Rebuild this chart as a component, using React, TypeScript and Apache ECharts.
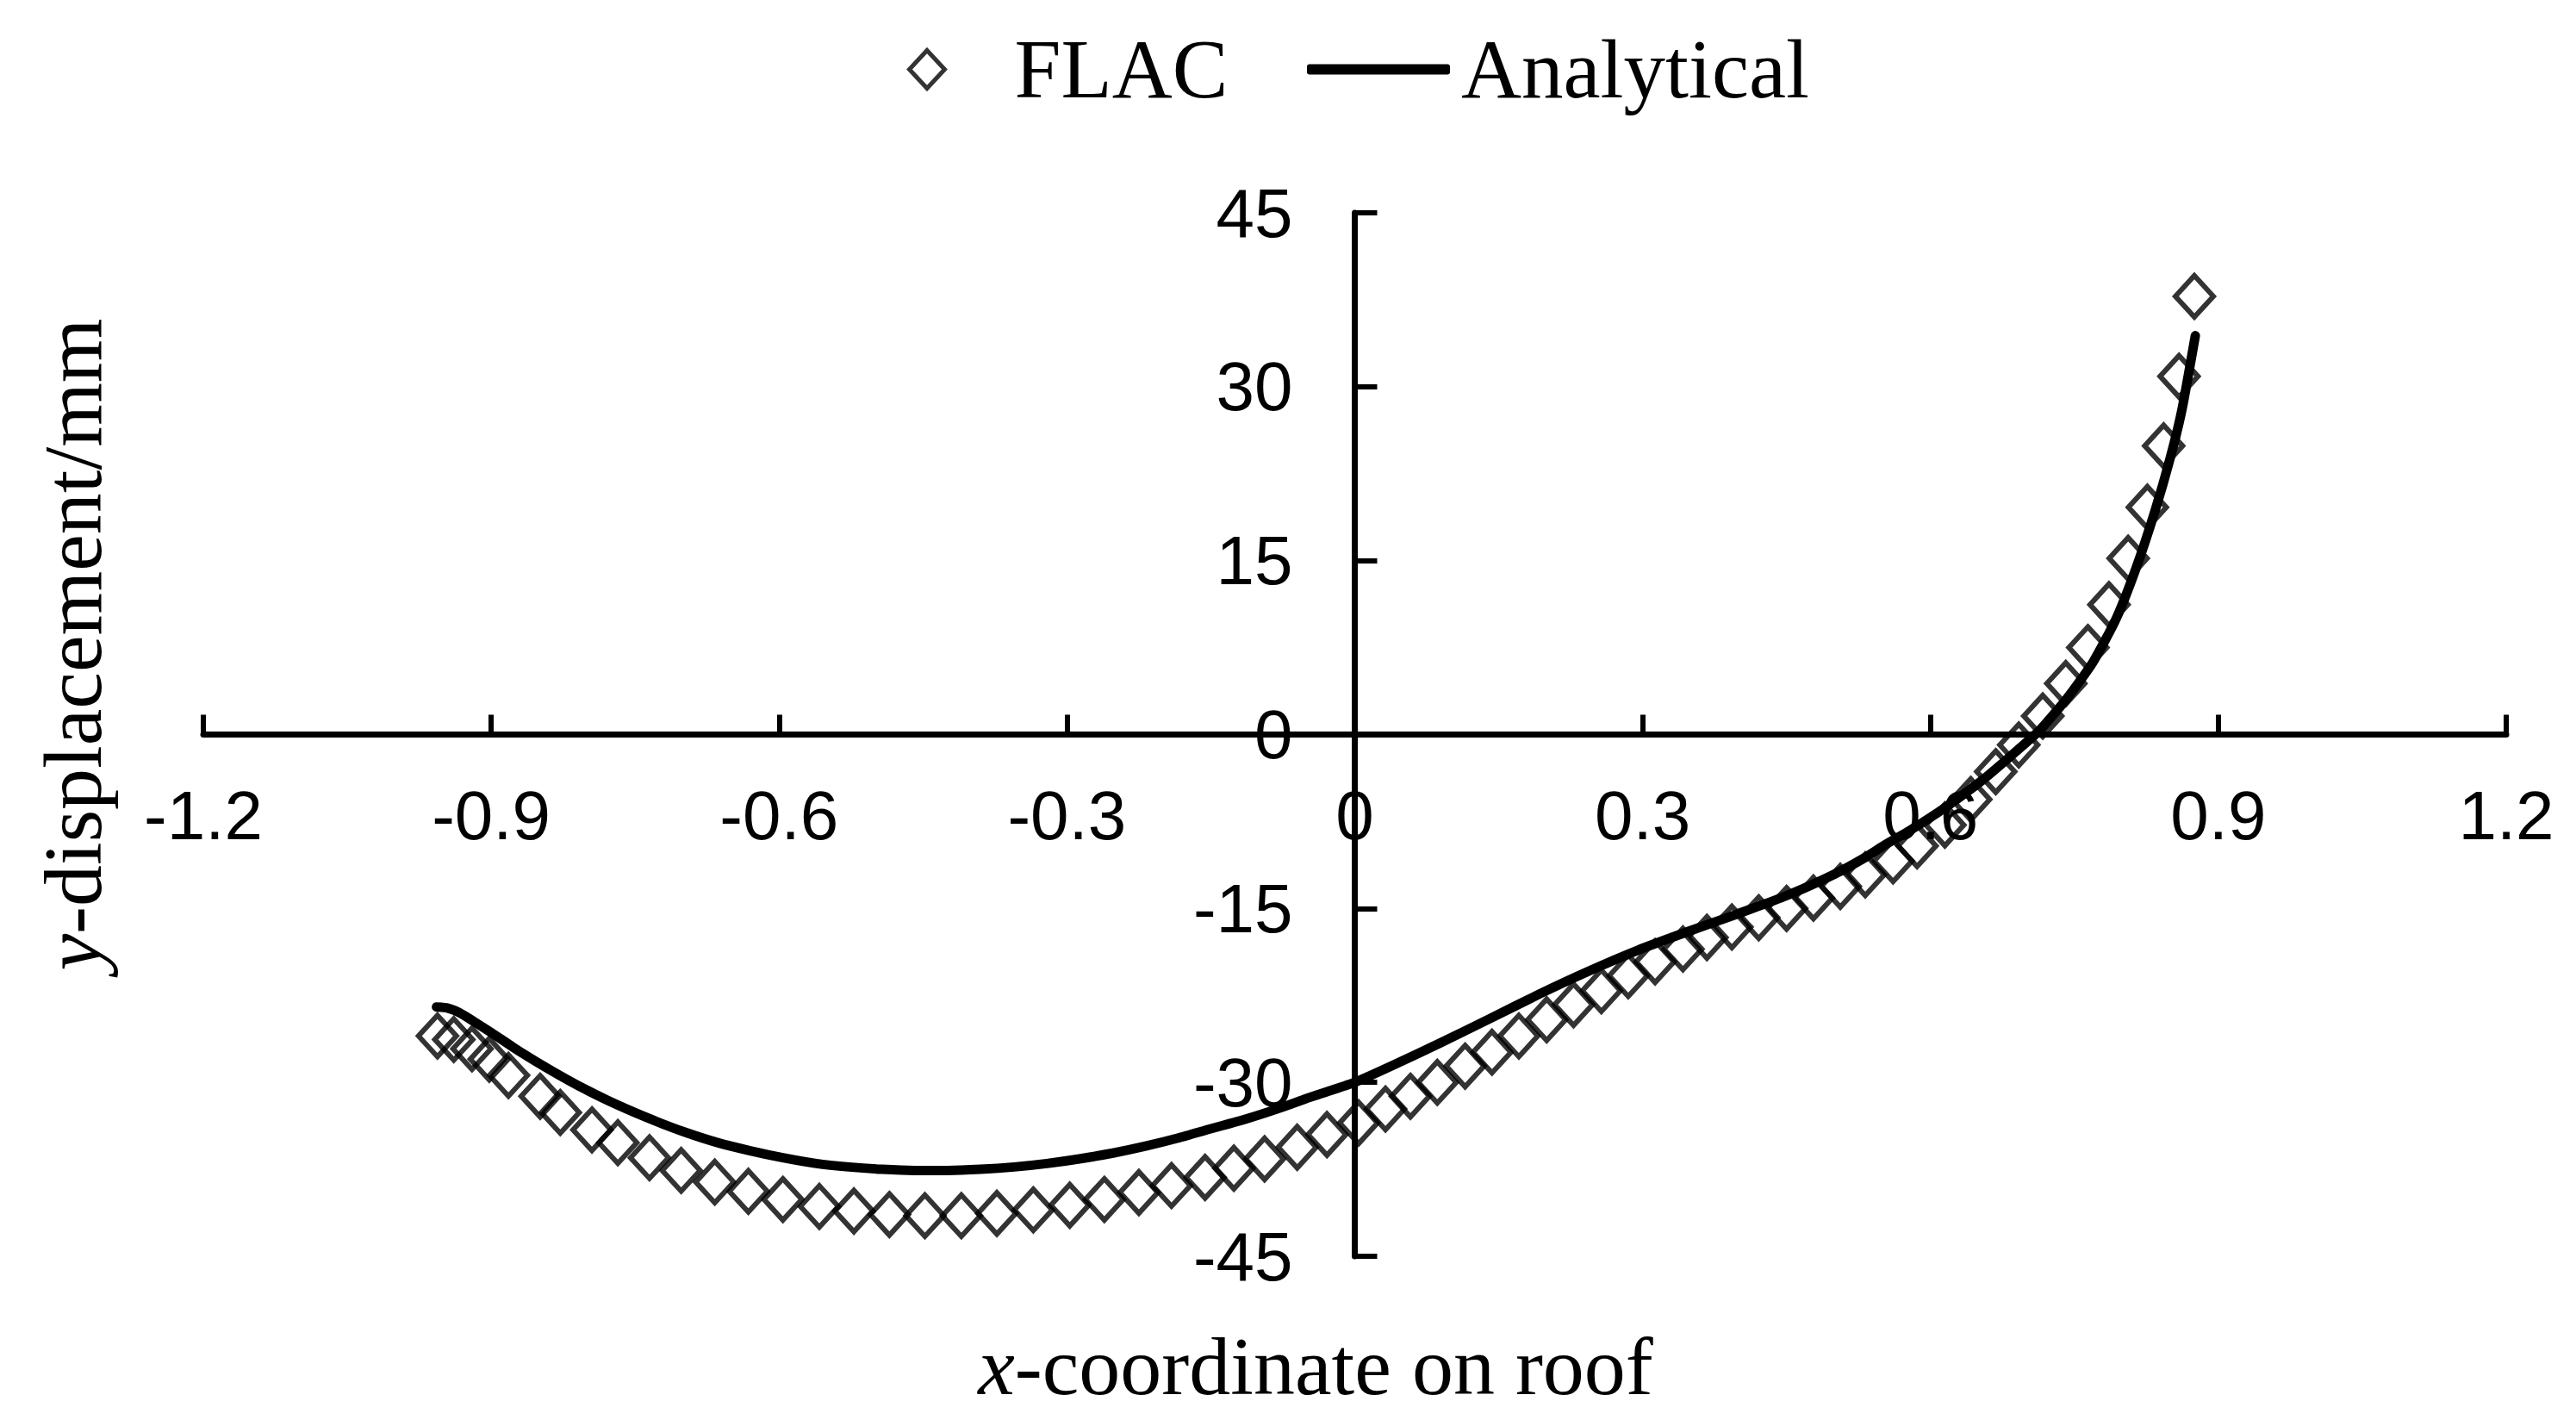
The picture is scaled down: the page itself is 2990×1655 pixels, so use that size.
import React, { useEffect, useRef } from "react";
import * as echarts from "echarts";

// ---- Data ----
const flacX = [
  -0.956, -0.939, -0.92, -0.902, -0.882, -0.849, -0.828, -0.795, -0.768, -0.735,
  -0.702, -0.667, -0.632, -0.596, -0.558, -0.522, -0.485, -0.448, -0.41, -0.373,
  -0.335, -0.297, -0.261, -0.225, -0.191, -0.156, -0.126, -0.094, -0.06, -0.029,
  0.004, 0.032, 0.058, 0.086, 0.115, 0.143, 0.171, 0.2, 0.228, 0.257,
  0.285, 0.313, 0.342, 0.367, 0.393, 0.421, 0.45, 0.478, 0.506, 0.532,
  0.561, 0.586, 0.615, 0.642, 0.668, 0.692, 0.717, 0.741, 0.764, 0.786,
  0.806, 0.826, 0.843, 0.859, 0.875,
];
const flacY = [
  -26.0, -26.3, -27.1, -28.0, -29.4, -31.2, -32.6, -34.1, -35.2, -36.5,
  -37.6, -38.6, -39.4, -40.1, -40.7, -41.1, -41.4, -41.5, -41.5, -41.3,
  -41.0, -40.6, -40.1, -39.5, -38.9, -38.2, -37.4, -36.6, -35.6, -34.5,
  -33.5, -32.3, -31.2, -30.0, -28.6, -27.4, -26.0, -24.6, -23.3, -22.1,
  -20.8, -19.6, -18.5, -17.5, -16.6, -15.8, -15.0, -14.1, -13.1, -12.1,
  -10.9, -9.6, -7.8, -5.6, -3.2, -0.9, 1.6, 4.4, 7.5, 11.2,
  15.2, 19.6, 24.9, 30.9, 37.8,
];

const analyticalX = [
  -0.957, -0.945, -0.933, -0.919, -0.9, -0.871, -0.837, -0.802, -0.767, -0.733,
  -0.698, -0.664, -0.63, -0.596, -0.561, -0.527, -0.493, -0.459, -0.424, -0.39,
  -0.355, -0.321, -0.287, -0.252, -0.218, -0.184, -0.15, -0.115, -0.081, -0.047,
  0.0, 0.038, 0.089, 0.141, 0.192, 0.244, 0.295, 0.347, 0.398, 0.45,
  0.501, 0.532, 0.553, 0.578, 0.617, 0.653, 0.683, 0.713, 0.742, 0.769,
  0.793, 0.814, 0.834, 0.85, 0.862, 0.876,
];
const analyticalY = [
  -23.5, -23.6, -24.0, -24.7, -25.7, -27.3, -29.0, -30.6, -32.0, -33.2,
  -34.3, -35.2, -35.9, -36.5, -37.0, -37.3, -37.5, -37.6, -37.6, -37.5,
  -37.3, -37.0, -36.6, -36.1, -35.5, -34.8, -34.0, -33.2, -32.3, -31.3,
  -30.0, -28.6, -26.6, -24.5, -22.4, -20.4, -18.6, -17.0, -15.5, -13.9,
  -12.0, -10.6, -9.5, -8.3, -6.2, -4.0, -1.9, 0.3, 3.1, 6.2,
  9.9, 14.3, 19.3, 23.9, 28.0, 34.4,
];

const seriesNames = ["FLAC", "Analytical"];
const xRange = [-1.2, 1.2];
const xStep = 0.3;
const yRange = [-45, 45];
const yStep = 15;
const xTitle = ["x", "-coordinate on roof"];
const yTitle = ["y", "-displacement/mm"];

const SANS = "Liberation Sans";
const SERIF = "Liberation Serif";

const W = 2990;
const H = 1655;
const GRID = { left: 236, right: 81, top: 247, bottom: 197 };

export default function App() {
  const ref = useRef<HTMLDivElement>(null);

  useEffect(() => {
    document.body.style.margin = "0";
    if (!ref.current) return;
    const chart = echarts.init(ref.current, undefined, { renderer: "svg" });

    const fmt = (v: number) => String(Math.round(v * 10) / 10);

    // place the axes through the origin (crossing at zero) using offsets
    const plotW = W - GRID.left - GRID.right;
    const plotH = H - GRID.top - GRID.bottom;
    const zeroXFrac = (0 - xRange[0]) / (xRange[1] - xRange[0]);
    const zeroYFrac = (0 - yRange[0]) / (yRange[1] - yRange[0]);
    const yAxisOffset = -plotW * zeroXFrac;
    const xAxisOffset = -plotH * zeroYFrac;

    const axisLine = { onZero: false, lineStyle: { color: "#000", width: 7 } };

    const option: any = {
      animation: false,
      backgroundColor: "#fff",
      grid: GRID,
      xAxis: {
        type: "value",
        position: "bottom",
        offset: xAxisOffset,
        min: xRange[0],
        max: xRange[1],
        interval: xStep,
        axisLine,
        splitLine: { show: false },
        axisTick: { inside: true, length: 23, lineStyle: { color: "#000", width: 6 } },
        axisLabel: {
          margin: 54,
          fontSize: 80,
          fontFamily: SANS,
          color: "#000",
          formatter: fmt,
        },
      },
      yAxis: {
        type: "value",
        position: "left",
        offset: yAxisOffset,
        min: yRange[0],
        max: yRange[1],
        interval: yStep,
        axisLine,
        splitLine: { show: false },
        axisTick: { inside: true, length: 26, lineStyle: { color: "#000", width: 6 } },
        axisLabel: {
          margin: 72,
          fontSize: 80,
          fontFamily: SANS,
          color: "#000",
          formatter: fmt,
        },
      },
      legend: [
        {
          data: [{ name: seriesNames[0], icon: "diamond" }],
          left: 1048,
          top: 27,
          itemWidth: 41,
          itemHeight: 44,
          selectedMode: false,
          itemStyle: { color: "rgba(0,0,0,0)", borderColor: "#000", borderWidth: 5 },
          textStyle: {
            fontFamily: SERIF,
            fontSize: 97,
            lineHeight: 97,
            color: "#000",
            padding: [0, 0, 0, 76],
          },
        },
        {
          data: [{ name: seriesNames[1], icon: "roundRect" }],
          left: 1512,
          top: 27,
          itemWidth: 166,
          itemHeight: 12,
          selectedMode: false,
          itemStyle: { color: "#000", borderWidth: 0 },
          lineStyle: { width: 0 },
          textStyle: {
            fontFamily: SERIF,
            fontSize: 97,
            lineHeight: 97,
            color: "#000",
            padding: [0, 0, 0, 8],
          },
        },
      ],
      series: [
        {
          name: seriesNames[0],
          type: "scatter",
          data: flacX.map((x, i) => [x, flacY[i]]),
          symbol: "diamond",
          symbolSize: [44, 48],
          itemStyle: { color: "rgba(0,0,0,0)", borderColor: "#000", borderWidth: 6 },
          z: 2,
        },
        {
          name: seriesNames[1],
          type: "line",
          data: analyticalX.map((x, i) => [x, analyticalY[i]]),
          symbol: "none",
          showSymbol: false,
          smooth: 0.2,
          lineStyle: { color: "#000", width: 11, cap: "round", join: "round" },
          itemStyle: { color: "#000" },
          z: 3,
        },
      ],
      graphic: [
        {
          type: "text",
          x: 1527,
          y: 1585,
          style: {
            text: `{i|${xTitle[0]}}{n|${xTitle[1]}}`,
            align: "center",
            verticalAlign: "middle",
            fontSize: 96,
            fontFamily: SERIF,
            fill: "#000",
            rich: {
              i: { fontStyle: "italic", fontSize: 96, fontFamily: SERIF, fill: "#000" },
              n: { fontSize: 96, fontFamily: SERIF, fill: "#000" },
            },
          },
        },
        {
          type: "text",
          x: 84,
          y: 748,
          rotation: Math.PI / 2,
          style: {
            text: `{i|${yTitle[0]}}{n|${yTitle[1]}}`,
            align: "center",
            verticalAlign: "middle",
            fontSize: 96,
            fontFamily: SERIF,
            fill: "#000",
            rich: {
              i: { fontStyle: "italic", fontSize: 96, fontFamily: SERIF, fill: "#000" },
              n: { fontSize: 96, fontFamily: SERIF, fill: "#000" },
            },
          },
        },
      ],
    };

    chart.setOption(option);
    return () => chart.dispose();
  }, []);

  return <div ref={ref} style={{ width: W, height: H }} />;
}
